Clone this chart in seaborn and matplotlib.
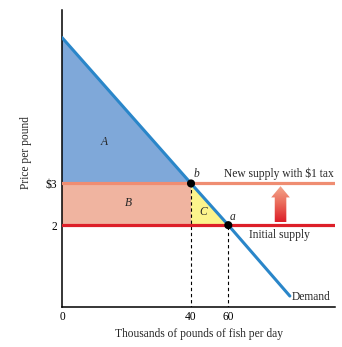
import numpy as np
import pandas as pd
import matplotlib
matplotlib.use("Agg")
import matplotlib.pyplot as plt
import seaborn as sns
from matplotlib.patches import FancyArrow, Polygon
from matplotlib.colors import LinearSegmentedColormap

# ---- data ----
demand_q = [0, 40, 60, 93]
demand_p = [6.5, 3.0, 2.0, 0.3]
tax_price = 3.0
initial_price = 2.0
q_tax = 40
q_init = 60
q_max = 117.2
p_max = 7.16
x_ticks = [0, 40, 60]
x_tick_labels = ["0", "40", "60"]
y_ticks = [2, 3]
y_tick_labels = ["2", "\\$3"]

sns.set_theme(style="white")
plt.rcParams["font.family"] = ["Liberation Serif", "DejaVu Serif"]

# broken (piecewise-linear) quantity axis, as in the textbook figure
K1 = 129 / 40.0
K2 = 1.865


def fwd(q):
    q = np.asarray(q, dtype=float)
    return np.where(q <= 40, q * K1, 40 * K1 + (q - 40) * K2)


def inv(u):
    u = np.asarray(u, dtype=float)
    return np.where(u <= 40 * K1, u / K1, 40 + (u - 40 * K1) / K2)


fig = plt.figure(figsize=(3.42, 3.47), dpi=100)
ax = fig.add_axes([62 / 342, 1 - 307.3 / 347, (335 - 62) / 342, (307.3 - 10) / 347])
ax.set_xscale("function", functions=(fwd, inv))

blue_fill = "#7fa8d9"
demand_col = "#2a86c9"
salmon_fill = "#f0b4a0"
tax_col = "#ef8d72"
red_col = "#dd1f29"
yellow_fill = "#fcf48c"

# area A
ax.add_patch(Polygon([(0, demand_p[0]), (q_tax, tax_price), (0, tax_price)],
                     closed=True, facecolor=blue_fill, edgecolor="none", zorder=1))
# area B
ax.fill_between([0, q_tax], initial_price, tax_price, color=salmon_fill, lw=0, zorder=1)
# area C
ax.add_patch(Polygon([(q_tax, tax_price), (q_tax, initial_price), (q_init, initial_price)],
                     closed=True, facecolor=yellow_fill, edgecolor="none", zorder=1))

# supply lines
supply_df = pd.DataFrame({"q": [0, q_max], "new": [tax_price] * 2, "init": [initial_price] * 2})
sns.lineplot(data=supply_df, x="q", y="new", color=tax_col, lw=2.3, ax=ax, zorder=3)
sns.lineplot(data=supply_df, x="q", y="init", color=red_col, lw=2.3, ax=ax, zorder=3)

# dashed drop lines
ax.vlines([q_tax], 0, tax_price, colors="black", linestyles=(0, (3, 2.5)), lw=0.8, zorder=2)
ax.vlines([q_init], 0, initial_price, colors="black", linestyles=(0, (3, 2.5)), lw=0.8, zorder=2)

# demand
demand_df = pd.DataFrame({"q": demand_q, "p": demand_p})
sns.lineplot(data=demand_df, x="q", y="p", color=demand_col, lw=2.2, ax=ax, zorder=4,
             sort=False)

# equilibrium points
pts = pd.DataFrame({"q": [q_tax, q_init], "p": [tax_price, initial_price]})
sns.scatterplot(data=pts, x="q", y="p", color="black", s=34, ax=ax, zorder=5,
                edgecolor="none")

# gradient arrow
arrow = FancyArrow(88.0, 2.07, 0, 0.865, width=6.2, head_width=10.0, head_length=0.27,
                   length_includes_head=True, facecolor="none", edgecolor="none")
ax.add_patch(arrow)
cmap = LinearSegmentedColormap.from_list("arr", [red_col, "#ea6a5a", "#f4a88e"])
grad = np.linspace(0, 1, 64).reshape(-1, 1)
im = ax.imshow(grad, extent=[80, 96, 2.07, 2.94], aspect="auto", cmap=cmap,
               origin="lower", zorder=3, interpolation="bilinear")
im.set_clip_path(arrow)

fs = 8.3
ax.annotate("A", xy=(13, 4.0), ha="center", va="center", fontsize=fs, style="italic")
ax.annotate("B", xy=(20.5, 2.53), ha="center", va="center", fontsize=fs, style="italic")
ax.annotate("C", xy=(46.4, 2.31), ha="center", va="center", fontsize=fs, style="italic")
ax.annotate("b", xy=(q_tax, tax_price), xytext=(3.6, 6.5), textcoords="offset points",
            ha="center", va="center", fontsize=fs, style="italic")
ax.annotate("a", xy=(q_init, initial_price), xytext=(2.9, 5.8), textcoords="offset points",
            ha="center", va="center", fontsize=fs, style="italic")
ax.annotate("New supply with \\$1 tax", xy=(q_tax, tax_price), xytext=(23.8, 7.2),
            textcoords="offset points", ha="left", va="center", fontsize=fs)
ax.annotate("Initial supply", xy=(q_init, initial_price), xytext=(15, -7.2),
            textcoords="offset points", ha="left", va="center", fontsize=fs)
ax.annotate("Demand", xy=(demand_q[-1], demand_p[-1]), xytext=(1.4, -0.7),
            textcoords="offset points", ha="left", va="center", fontsize=fs)

ax.set_xlim(0, q_max)
ax.set_ylim(0.03, p_max)
ax.set_xticks(x_ticks)
ax.set_xticklabels(x_tick_labels)
ax.set_yticks(y_ticks)
ax.set_yticklabels(y_tick_labels)
ax.minorticks_off()
ax.tick_params(axis="both", length=0, labelsize=fs, colors="black")
ax.tick_params(axis="y", pad=3.6)
ax.tick_params(axis="x", pad=2.5)
ax.set_xlabel("Thousands of pounds of fish per day", fontsize=fs, labelpad=4)
ax.set_ylabel("Price per pound", fontsize=fs)
ax.yaxis.set_label_coords(-0.11, 0.52)

for side in ["top", "right"]:
    ax.spines[side].set_visible(False)
for side in ["left", "bottom"]:
    ax.spines[side].set_color("black")
    ax.spines[side].set_linewidth(1.1)
ax.grid(False)

fig.savefig("out.png", dpi=100)
